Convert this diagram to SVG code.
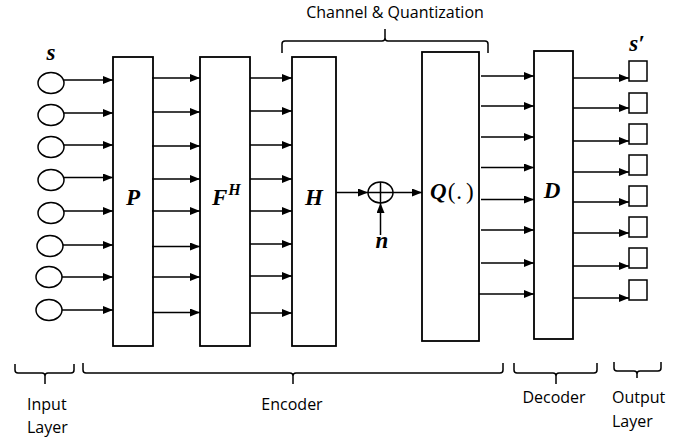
<svg xmlns="http://www.w3.org/2000/svg" width="686" height="437" viewBox="0 0 686 437">
  <style>
    .box { fill: #ffffff; stroke: #000000; stroke-width: 1.8; }
    .node { fill: #ffffff; stroke: #000000; stroke-width: 1.5; }
    .wire { fill: none; stroke: #000000; stroke-width: 1.5; marker-end: url(#head); }
    .brace { fill: none; stroke: #000000; stroke-width: 1.5; }
    .math { font-family: "Liberation Serif", "DejaVu Serif", serif; font-weight: bold; font-style: italic; font-size: 23px; fill: #000000; }
    .upright { font-style: normal; font-weight: normal; }
    .label { font-family: "Open Sans", "Liberation Sans", sans-serif; font-size: 16px; fill: #000000; }
  </style>
  <defs>
    <marker id="head" markerUnits="userSpaceOnUse" markerWidth="10" markerHeight="8" viewBox="0 0 10 8" refX="10" refY="4" orient="auto">
      <path d="M0,0 L10,4 L0,8 Z" fill="#000000"/>
    </marker>
  </defs>

  <!-- input layer s -->
  <g id="input-layer">
    <text class="math" x="51" y="60" text-anchor="middle">s</text>
    <g id="in0"><ellipse class="node" cx="51" cy="83" rx="13" ry="10.5"/></g>
    <g id="in1"><ellipse class="node" cx="51" cy="115" rx="13" ry="10.5"/></g>
    <g id="in2"><ellipse class="node" cx="51" cy="147" rx="13" ry="10.5"/></g>
    <g id="in3"><ellipse class="node" cx="51" cy="180" rx="13" ry="10.5"/></g>
    <g id="in4"><ellipse class="node" cx="51" cy="213" rx="13" ry="10.5"/></g>
    <g id="in5"><ellipse class="node" cx="50" cy="246" rx="13" ry="10.5"/></g>
    <g id="in6"><ellipse class="node" cx="49" cy="277" rx="13" ry="10.5"/></g>
    <g id="in7"><ellipse class="node" cx="49" cy="310" rx="13" ry="10.5"/></g>
  </g>

  <!-- encoder blocks -->
  <g id="P">
    <rect class="box" x="113" y="57" width="40" height="289"/>
    <text class="math" x="133" y="205" text-anchor="middle">P</text>
  </g>
  <g id="FH">
    <rect class="box" x="200" y="57" width="50" height="289"/>
    <text class="math" x="212" y="205">F<tspan font-size="16" dy="-10" dx="1">H</tspan></text>
  </g>
  <g id="H">
    <rect class="box" x="292" y="57" width="44" height="289"/>
    <text class="math" x="314" y="205" text-anchor="middle">H</text>
  </g>

  <!-- additive noise -->
  <g id="sum">
    <ellipse class="node" cx="380.5" cy="192.5" rx="12.5" ry="10.5"/>
    <path d="M368,192.5 H393 M380.5,182 V203" stroke="#000000" stroke-width="1.5"/>
  </g>
  <g id="noise">
    <text class="math" x="382" y="248" text-anchor="middle">n</text>
  </g>

  <!-- quantizer and decoder -->
  <g id="Q">
    <rect class="box" x="422" y="52" width="57" height="289"/>
    <text class="math" x="430" y="199">Q<tspan class="upright" dx="1">(</tspan><tspan class="upright" dx="1">.</tspan><tspan class="upright" dx="4">)</tspan></text>
  </g>
  <g id="D">
    <rect class="box" x="534" y="51" width="39" height="288"/>
    <text class="math" x="552" y="198" text-anchor="middle">D</text>
  </g>

  <!-- output layer s' -->
  <g id="output-layer">
    <text class="math" x="637" y="51" text-anchor="middle">s′</text>
    <g id="out0"><rect class="node" x="629" y="61" width="18" height="20"/></g>
    <g id="out1"><rect class="node" x="629" y="93" width="18" height="20"/></g>
    <g id="out2"><rect class="node" x="629" y="124" width="18" height="20"/></g>
    <g id="out3"><rect class="node" x="629" y="155" width="18" height="20"/></g>
    <g id="out4"><rect class="node" x="629" y="186" width="18" height="20"/></g>
    <g id="out5"><rect class="node" x="629" y="217" width="18" height="20"/></g>
    <g id="out6"><rect class="node" x="629" y="248" width="18" height="20"/></g>
    <g id="out7"><rect class="node" x="629" y="280" width="18" height="20"/></g>
  </g>

  <!-- connectors -->
  <g id="connectors">
    <!-- s to P -->
    <path class="wire" d="M64,80 H113"/>
    <path class="wire" d="M64,113 H113"/>
    <path class="wire" d="M64,145 H113"/>
    <path class="wire" d="M64,177.5 H113"/>
    <path class="wire" d="M64,211 H113"/>
    <path class="wire" d="M63,245 H113"/>
    <path class="wire" d="M62,277 H113"/>
    <path class="wire" d="M62,310 H113"/>
    <!-- P to F^H -->
    <path class="wire" d="M152,78 H200"/>
    <path class="wire" d="M152,112 H200"/>
    <path class="wire" d="M152,146 H200"/>
    <path class="wire" d="M152,179 H200"/>
    <path class="wire" d="M152,211 H200"/>
    <path class="wire" d="M152,246.5 H200"/>
    <path class="wire" d="M152,277 H200"/>
    <path class="wire" d="M152,312.5 H200"/>
    <!-- F^H to H -->
    <path class="wire" d="M250,78 H292"/>
    <path class="wire" d="M250,111 H292"/>
    <path class="wire" d="M250,145 H292"/>
    <path class="wire" d="M250,179 H292"/>
    <path class="wire" d="M250,211 H292"/>
    <path class="wire" d="M250,244 H292"/>
    <path class="wire" d="M250,276 H292"/>
    <path class="wire" d="M250,313 H292"/>
    <!-- H through the noise adder to Q -->
    <path class="wire" d="M336,192.5 H368"/>
    <path class="wire" d="M393,192.5 H422"/>
    <path class="wire" d="M380.5,235 V203"/>
    <!-- Q to D -->
    <path class="wire" d="M481,76 H534"/>
    <path class="wire" d="M481,106 H534"/>
    <path class="wire" d="M481,137 H534"/>
    <path class="wire" d="M481,167.5 H534"/>
    <path class="wire" d="M481,199.5 H534"/>
    <path class="wire" d="M481,230 H534"/>
    <path class="wire" d="M481,263 H534"/>
    <path class="wire" d="M479,294 H534"/>
    <!-- D to s' -->
    <path class="wire" d="M573,78 H629"/>
    <path class="wire" d="M573,108 H629"/>
    <path class="wire" d="M573,141 H629"/>
    <path class="wire" d="M573,172 H629"/>
    <path class="wire" d="M573,202 H629"/>
    <path class="wire" d="M573,233 H629"/>
    <path class="wire" d="M573,266 H629"/>
    <path class="wire" d="M573,298 H629"/>
  </g>

  <!-- group braces and their captions -->
  <g id="brace-channel">
    <path class="brace" d="M282,53 V44 Q282,41 285,41 H382 Q385,41 385,38 V29 M385,38 Q385,41 388,41 H485 Q488,41 488,44 V53"/>
    <text class="label" x="395" y="18" text-anchor="middle">Channel &amp; Quantization</text>
  </g>
  <g id="brace-input">
    <path class="brace" d="M15,364 V370 Q15,373 18,373 H42 Q45,373 45,376 V384 M45,376 Q45,373 48,373 H71 Q74,373 74,370 V364"/>
    <text class="label" x="27" y="410">Input</text>
    <text class="label" x="27" y="433">Layer</text>
  </g>
  <g id="brace-encoder">
    <path class="brace" d="M83,363 V370 Q83,373 86,373 H290 Q293,373 293,376 V384 M293,376 Q293,373 296,373 H500 Q503,373 503,370 V363"/>
    <text class="label" x="292" y="410" text-anchor="middle">Encoder</text>
  </g>
  <g id="brace-decoder">
    <path class="brace" d="M514,363 V370 Q514,373 517,373 H553 Q556,373 556,376 V384 M556,376 Q556,373 559,373 H594 Q597,373 597,370 V363"/>
    <text class="label" x="554" y="403" text-anchor="middle">Decoder</text>
  </g>
  <g id="brace-output">
    <path class="brace" d="M614,362 V368 Q614,371 617,371 H634 Q637,371 637,374 V378 M637,374 Q637,371 640,371 H658 Q661,371 661,368 V362"/>
    <text class="label" x="612" y="403">Output</text>
    <text class="label" x="612" y="427">Layer</text>
  </g>
</svg>
